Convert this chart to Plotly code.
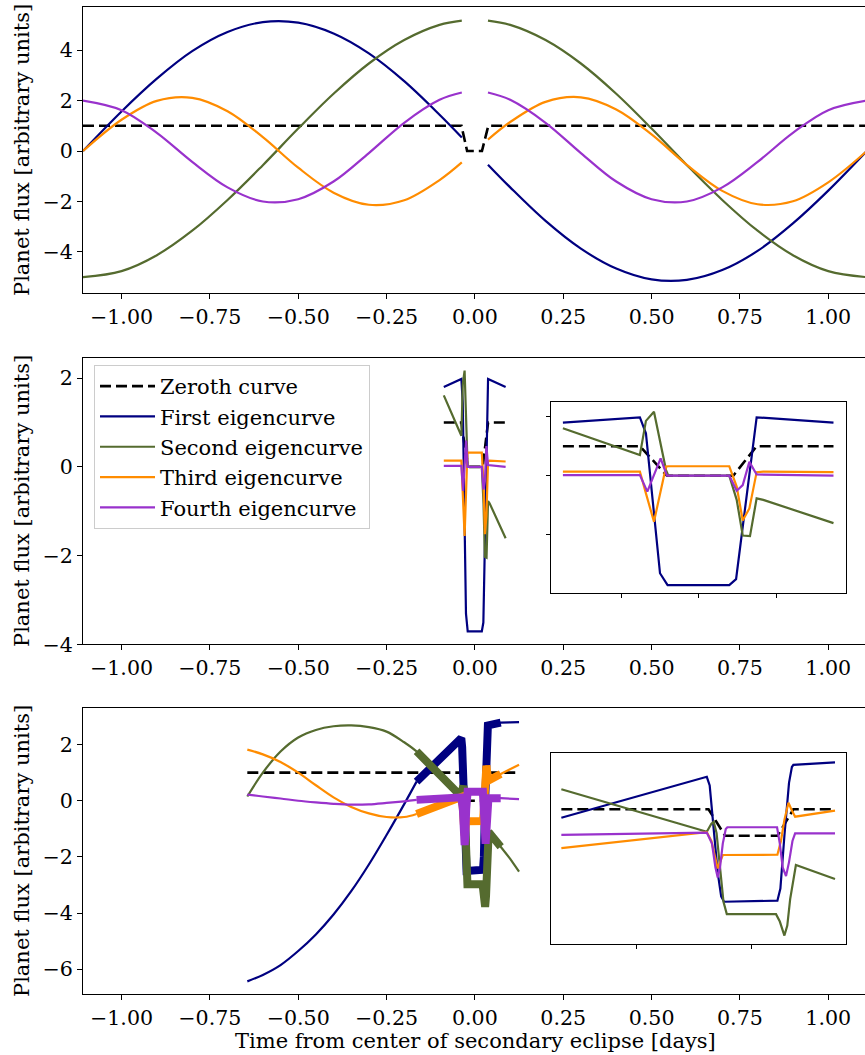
import plotly.graph_objects as go

# ---------------- data ----------------
names = ["Zeroth curve", "First eigencurve", "Second eigencurve", "Third eigencurve", "Fourth eigencurve"]
colors = ["black", "#000080", "#556B2F", "#FF8C00", "#9932CC"]

# Panel 1 (full phase curve, gap during eclipse)
p1_x_left = [-1.109, -1.0, -0.9, -0.8, -0.7, -0.6, -0.5, -0.4, -0.3, -0.2, -0.1, -0.037]
p1_x_right = [0.037, 0.1, 0.2, 0.3, 0.4, 0.5, 0.6, 0.7, 0.8, 0.9, 1.0, 1.109]
p1_first_left = [0.0, 1.57, 2.87, 3.96, 4.72, 5.11, 5.09, 4.66, 3.87, 2.77, 1.44, 0.54]
p1_first_right = [-0.54, -1.44, -2.77, -3.87, -4.66, -5.09, -5.11, -4.72, -3.96, -2.87, -1.57, 0.0]
p1_second_left = [-5.0, -4.76, -4.13, -3.16, -1.94, -0.56, 0.89, 2.27, 3.47, 4.40, 5.00, 5.17]
p1_second_right = [5.17, 5.00, 4.40, 3.47, 2.27, 0.89, -0.56, -1.94, -3.16, -4.13, -4.76, -5.0]
p1_third_left = [0.0, 1.24, 1.99, 2.11, 1.58, 0.55, -0.66, -1.65, -2.13, -1.95, -1.15, -0.45]
p1_third_right = [0.45, 1.15, 1.95, 2.13, 1.65, 0.66, -0.55, -1.58, -2.11, -1.99, -1.24, 0.0]
p1_fourth_left = [2.0, 1.62, 0.72, -0.43, -1.44, -2.00, -1.91, -1.21, -0.08, 1.12, 2.03, 2.32]
p1_fourth_right = [2.32, 2.03, 1.12, -0.08, -1.21, -1.91, -2.00, -1.44, -0.43, 0.72, 1.62, 2.0]
p1_zeroth_x = [-1.109, -0.038, -0.022, 0.020, 0.038, 1.109]
p1_zeroth_y = [1, 1, 0, 0, 1, 1]

# Panel 2 (eclipse only)
p2_zeroth_x = [-0.088, -0.0382, -0.0207, 0.0222, 0.0373, 0.087]
p2_zeroth_y = [1, 1, 0, 0, 1, 1]
p2_first_x = [-0.088, -0.0382, -0.0343, -0.0252, -0.0203, 0.0196, 0.024, 0.0373, 0.087]
p2_first_y = [1.80, 1.98, 1.44, -3.31, -3.71, -3.71, -3.51, 1.98, 1.80]
p2_second_x = [-0.088, -0.0382, -0.0343, -0.0291, -0.0213, -0.0198, 0.0196, 0.0244, 0.0283, 0.033, 0.0373, 0.0416, 0.087]
p2_second_y = [1.61, 0.70, 1.86, 2.17, 0.19, 0.0, 0.0, -0.82, -2.03, -2.05, -0.77, -0.82, -1.61]
p2_third_x = [-0.088, -0.0382, -0.0343, -0.0291, -0.0213, -0.0198, 0.0196, 0.0244, 0.0283, 0.0326, 0.0373, 0.0416, 0.087]
p2_third_y = [0.14, 0.14, -0.6, -1.56, 0.31, 0.32, 0.32, -0.37, -1.52, -1.11, 0.12, 0.14, 0.12]
p2_fourth_x = [-0.088, -0.0382, -0.0334, -0.0248, -0.0207, 0.0196, 0.0244, 0.0283, 0.0326, 0.0373, 0.087]
p2_fourth_y = [0.02, 0.02, -0.54, 0.59, 0.0, 0.0, -0.51, -0.32, 0.47, 0.04, 0.0]

# Panel 3 (partial phase curve; thick = middle section)
p3_x_left = [-0.644, -0.6, -0.55, -0.5, -0.45, -0.4, -0.35, -0.3, -0.25, -0.2]
p3_x_right = [0.1, 0.125]
p3_first_left = [-6.43, -6.2, -5.85, -5.35, -4.76, -4.05, -3.22, -2.27, -1.22, -0.12]
p3_first_right = [2.79, 2.80]
p3_second_left = [0.15, 1.0, 1.75, 2.25, 2.52, 2.65, 2.68, 2.62, 2.46, 2.08]
p3_second_right = [-2.07, -2.52]
p3_third_left = [1.82, 1.65, 1.38, 1.0, 0.55, 0.12, -0.22, -0.45, -0.58, -0.58]
p3_third_right = [1.12, 1.28]
p3_fourth_left = [0.22, 0.15, 0.08, 0.0, -0.06, -0.11, -0.14, -0.13, -0.08, -0.02]
p3_fourth_right = [0.07, 0.06]

p3_first_mid_x = [-0.165, -0.0385, -0.036, -0.033, -0.029, -0.026, -0.0235, 0.0229, 0.0255, 0.029, 0.033, 0.0355, 0.0368, 0.073]
p3_first_mid_y = [0.68, 2.23, 1.9, 0.6, -1.4, -2.3, -2.5, -2.46, -2.0, 0.0, 2.0, 2.6, 2.68, 2.78]
p3_second_mid_x = [-0.165, -0.0385, -0.0345, -0.0325, -0.030, -0.027, -0.024, -0.0211, 0.0217, 0.025, 0.029, 0.0315, 0.034, 0.039, 0.073]
p3_second_mid_y = [1.76, 0.15, 0.45, 0.53, 0.1, -1.17, -2.5, -2.97, -2.97, -3.25, -3.78, -3.4, -2.4, -1.11, -1.64]
p3_third_mid_x = [-0.165, -0.10, -0.0385, -0.0345, -0.0315, -0.029, -0.0265, -0.0246, 0.0229, 0.026, 0.029, 0.0325, 0.035, 0.0383, 0.073]
p3_third_mid_y = [-0.47, -0.16, 0.13, -0.2, -0.75, -1.24, -0.95, -0.73, -0.72, -0.2, 0.6, 1.25, 1.0, 0.72, 0.95]
p3_fourth_mid_x = [-0.165, -0.0385, -0.034, -0.031, -0.029, -0.027, -0.0246, -0.022, -0.0206, 0.0226, 0.025, 0.0275, 0.0304, 0.033, 0.036, 0.0383, 0.073]
p3_fourth_mid_y = [0.03, 0.12, -0.3, -1.2, -1.58, -1.2, -0.3, 0.25, 0.32, 0.32, -0.3, -1.2, -1.53, -1.0, -0.2, 0.09, 0.09]
p3_zeroth_x = [-0.644, -0.165, -0.037, -0.0226, 0.023, 0.0368, 0.073, 0.125]
p3_zeroth_y = [1, 1, 1, 0, 0, 1, 1, 1]

x_ticks = [-1.0, -0.75, -0.5, -0.25, 0.0, 0.25, 0.5, 0.75, 1.0]

# ---------------- figure ----------------
FONT = "DejaVu Serif"
FS = 21
TFS = 20.6
THIN = 2.2
THICK = 8
DASH = "11px,5px"

fig = go.Figure()


def add(x, y, color, xa, ya, width=THIN, dash=None, name=None, legend=False, shape="linear"):
    fig.add_trace(go.Scatter(
        x=x, y=y, mode="lines", xaxis=xa, yaxis=ya,
        line=dict(color=color, width=width, dash=dash, shape=shape),
        name=name, showlegend=legend, legendgroup=name, hoverinfo="skip"))


# Panel 1
add(p1_zeroth_x, p1_zeroth_y, colors[0], "x", "y", width=2.6, dash=DASH)
p1_x = p1_x_left + [None] + p1_x_right
for c, l, r in zip(colors[1:],
                   [p1_first_left, p1_second_left, p1_third_left, p1_fourth_left],
                   [p1_first_right, p1_second_right, p1_third_right, p1_fourth_right]):
    add(p1_x, l + [None] + r, c, "x", "y", shape="spline")

# Panel 2 main + inset
p2 = [(p2_zeroth_x, p2_zeroth_y), (p2_first_x, p2_first_y), (p2_second_x, p2_second_y),
      (p2_third_x, p2_third_y), (p2_fourth_x, p2_fourth_y)]
for i, (xx, yy) in enumerate(p2):
    w = 2.6 if i == 0 else THIN
    d = DASH if i == 0 else None
    add(xx, yy, colors[i], "x2", "y2", width=w, dash=d, name=names[i], legend=True)
for i, (xx, yy) in enumerate(p2):
    w = 2.6 if i == 0 else THIN
    d = DASH if i == 0 else None
    add(xx, yy, colors[i], "x4", "y4", width=w, dash=d)

# Panel 3 main + inset
add(p3_zeroth_x, p3_zeroth_y, colors[0], "x3", "y3", width=2.6, dash=DASH)
p3 = [(p3_first_left, p3_first_mid_x, p3_first_mid_y, p3_first_right),
      (p3_second_left, p3_second_mid_x, p3_second_mid_y, p3_second_right),
      (p3_third_left, p3_third_mid_x, p3_third_mid_y, p3_third_right),
      (p3_fourth_left, p3_fourth_mid_x, p3_fourth_mid_y, p3_fourth_right)]
for c, (lft, mx, my, rgt) in zip(colors[1:], p3):
    # smooth thin part before the thick section
    add(p3_x_left + mx[:1], lft + my[:1], c, "x3", "y3", shape="spline")
    # thin part through the thick section and beyond
    add(mx + p3_x_right, my + rgt, c, "x3", "y3")
    add(mx, my, c, "x3", "y3", width=THICK)

add(p3_zeroth_x[1:7], p3_zeroth_y[1:7], colors[0], "x5", "y5", width=2.6, dash=DASH)
for c, (lft, mx, my, rgt) in zip(colors[1:], p3):
    add(mx, my, c, "x5", "y5")

# ---------------- layout ----------------
W, H = 865, 1055
ML, MR, MT, MB = 83, 0, 7, 61
PW = W - ML - MR
PH = H - MT - MB


def fy(py):  # page pixel -> paper fraction
    return min(1.0, max(0.0, (H - MB - py) / PH))


def fy_free(py):
    return (H - MB - py) / PH


def fx(px):
    return (px - ML) / PW


axis_common = dict(showgrid=False, zeroline=False, showline=True, linecolor="black",
                   linewidth=1, mirror=True, ticks="outside", ticklen=5, tickwidth=1,
                   tickcolor="black", tickfont=dict(family=FONT, size=TFS, color="black"))
xr = [-1.109, 1.104]

layout = dict(
    width=W, height=H,
    margin=dict(l=ML, r=MR, t=MT, b=MB),
    paper_bgcolor="white", plot_bgcolor="white",
    font=dict(family=FONT, size=FS, color="black"),
    xaxis=dict(domain=[0, 1], anchor="y", range=xr, tickvals=x_ticks, tickformat=".2f", **axis_common),
    yaxis=dict(domain=[fy(293.3), fy(7)], anchor="x", range=[-5.64, 5.71], tickvals=[-4, -2, 0, 2, 4], **axis_common),
    xaxis2=dict(domain=[0, 1], anchor="y2", range=xr, tickvals=x_ticks, tickformat=".2f", **axis_common),
    yaxis2=dict(domain=[fy(644.3), fy(357.7)], anchor="x2", range=[-4.0, 2.46], tickvals=[-4, -2, 0, 2], **axis_common),
    xaxis3=dict(domain=[0, 1], anchor="y3", range=xr, tickvals=x_ticks, tickformat=".2f", **axis_common),
    yaxis3=dict(domain=[fy(994), fy(708.3)], anchor="x3", range=[-6.88, 3.29], tickvals=[-6, -4, -2, 0, 2], **axis_common),
    xaxis4=dict(domain=[fx(551), fx(845.7)], anchor="y4", range=[-0.0957, 0.0949],
                tickvals=[-0.05, 0, 0.05], showticklabels=False,
                **{**axis_common, "ticklen": 4}),
    yaxis4=dict(domain=[fy(592.7), fy(402.3)], anchor="x4", range=[-3.97, 2.49],
                tickvals=[-2, 0, 2], showticklabels=False,
                **{**axis_common, "ticklen": 4}),
    xaxis5=dict(domain=[fx(551), fx(845.7)], anchor="y5", range=[-0.174, 0.0823],
                tickvals=[-0.1, 0.0], showticklabels=False,
                **{**axis_common, "ticklen": 4}),
    yaxis5=dict(domain=[fy(944), fy(753.3)], anchor="x5", range=[-4.1, 3.12],
                showticklabels=False, **{**axis_common, "ticks": ""}),
    legend=dict(x=fx(94), y=fy(365), xanchor="left", yanchor="top",
                bgcolor="rgba(255,255,255,0.8)", bordercolor="#cccccc", borderwidth=1,
                font=dict(family=FONT, size=FS, color="black"), itemwidth=55,
                tracegroupgap=0, traceorder="grouped"),
    showlegend=True,
)
fig.update_layout(**layout)

ylab = "Planet flux [arbitrary units]"
for py in [150.0, 501.0, 851.0]:
    fig.add_annotation(text=ylab, xref="paper", yref="paper", x=fx(22), y=fy(py),
                       xanchor="center", yanchor="middle", textangle=-90, showarrow=False,
                       font=dict(family=FONT, size=FS, color="black"))
fig.add_annotation(text="Time from center of secondary eclipse [days]", xref="paper", yref="paper",
                   x=fx(475), y=fy_free(1041), xanchor="center", yanchor="middle", showarrow=False,
                   font=dict(family=FONT, size=FS, color="black"))

fig.write_html("out.html", config={"displayModeBar": False},
               post_script="document.body.style.margin='0';document.body.style.overflow='hidden';")
